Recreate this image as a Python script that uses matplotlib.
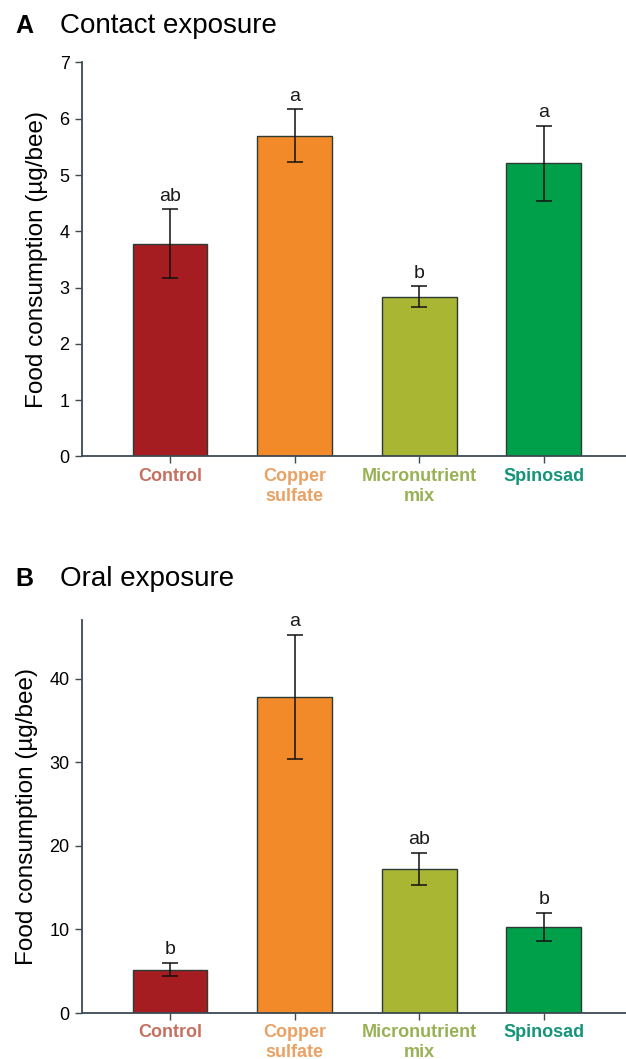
import matplotlib
matplotlib.use("Agg")
import matplotlib.pyplot as plt
import numpy as np

plt.rcParams['font.family'] = ['Liberation Sans', 'DejaVu Sans']

categories = ['Control', 'Copper\nsulfate', 'Micronutrient\nmix', 'Spinosad']

# panel A: contact exposure
contact_mean = [3.78, 5.70, 2.84, 5.21]
contact_err = [0.61, 0.47, 0.18, 0.67]
contact_letters = ['ab', 'a', 'b', 'a']

# panel B: oral exposure
oral_mean = [5.2, 37.8, 17.2, 10.3]
oral_err = [0.8, 7.4, 1.9, 1.7]
oral_letters = ['b', 'a', 'ab', 'b']

bar_colors = ['#a61d21', '#f38a2a', '#a9b634', '#00a04b']
label_colors = ['#c6705f', '#e9a264', '#98b154', '#14957a']
axis_color = '#3c4a52'


def draw_panel(ax, means, errs, letters, ymax, yticks, letter_gap):
    x = np.arange(len(categories))
    ax.bar(x, means, width=0.6, color=bar_colors, edgecolor='#2d3b35', linewidth=1.0, zorder=2)
    ax.errorbar(x, means, yerr=errs, fmt='none', ecolor='#111111', elinewidth=1.1,
                capsize=6, capthick=1.1, zorder=3)
    for xi, m, e, lab in zip(x, means, errs, letters):
        ax.text(xi, m + e + letter_gap, lab, ha='center', va='bottom', fontsize=14, color='#1a1a1a')
    ax.set_xlim(-0.707, 3.66)
    ax.set_ylim(0, ymax)
    ax.set_yticks(yticks)
    ax.set_xticks(x)
    ax.set_xticklabels(categories, fontsize=13, fontweight='bold', linespacing=1.25)
    for tl, c in zip(ax.get_xticklabels(), label_colors):
        tl.set_color(c)
    ax.tick_params(axis='y', labelsize=13, length=5, width=1, color=axis_color, pad=4)
    ax.tick_params(axis='x', length=5, width=1, color=axis_color, pad=3)
    ax.spines['top'].set_visible(False)
    ax.spines['right'].set_visible(False)
    for s in ['left', 'bottom']:
        ax.spines[s].set_color(axis_color)
        ax.spines[s].set_linewidth(1.3)
    ax.set_ylabel('Food consumption (\u00b5g/bee)', fontsize=17.5, labelpad=8)


fig = plt.figure(figsize=(6.26, 10.59), dpi=100)
ax1 = fig.add_axes([0.131, 0.569, 0.869, 0.372])
ax2 = fig.add_axes([0.131, 0.0434, 0.869, 0.371])

draw_panel(ax1, contact_mean, contact_err, contact_letters, 7, range(0, 8), 0.08)
draw_panel(ax2, oral_mean, oral_err, oral_letters, 47, range(0, 50, 10), 0.6)

fig.text(0.024, 0.975, 'A', fontsize=18, fontweight='bold', va='center', ha='left')
fig.text(0.096, 0.975, 'Contact exposure', fontsize=20, va='center', ha='left')
fig.text(0.024, 0.453, 'B', fontsize=18, fontweight='bold', va='center', ha='left')
fig.text(0.096, 0.453, 'Oral exposure', fontsize=20, va='center', ha='left')

fig.savefig('out.png', dpi=100)
